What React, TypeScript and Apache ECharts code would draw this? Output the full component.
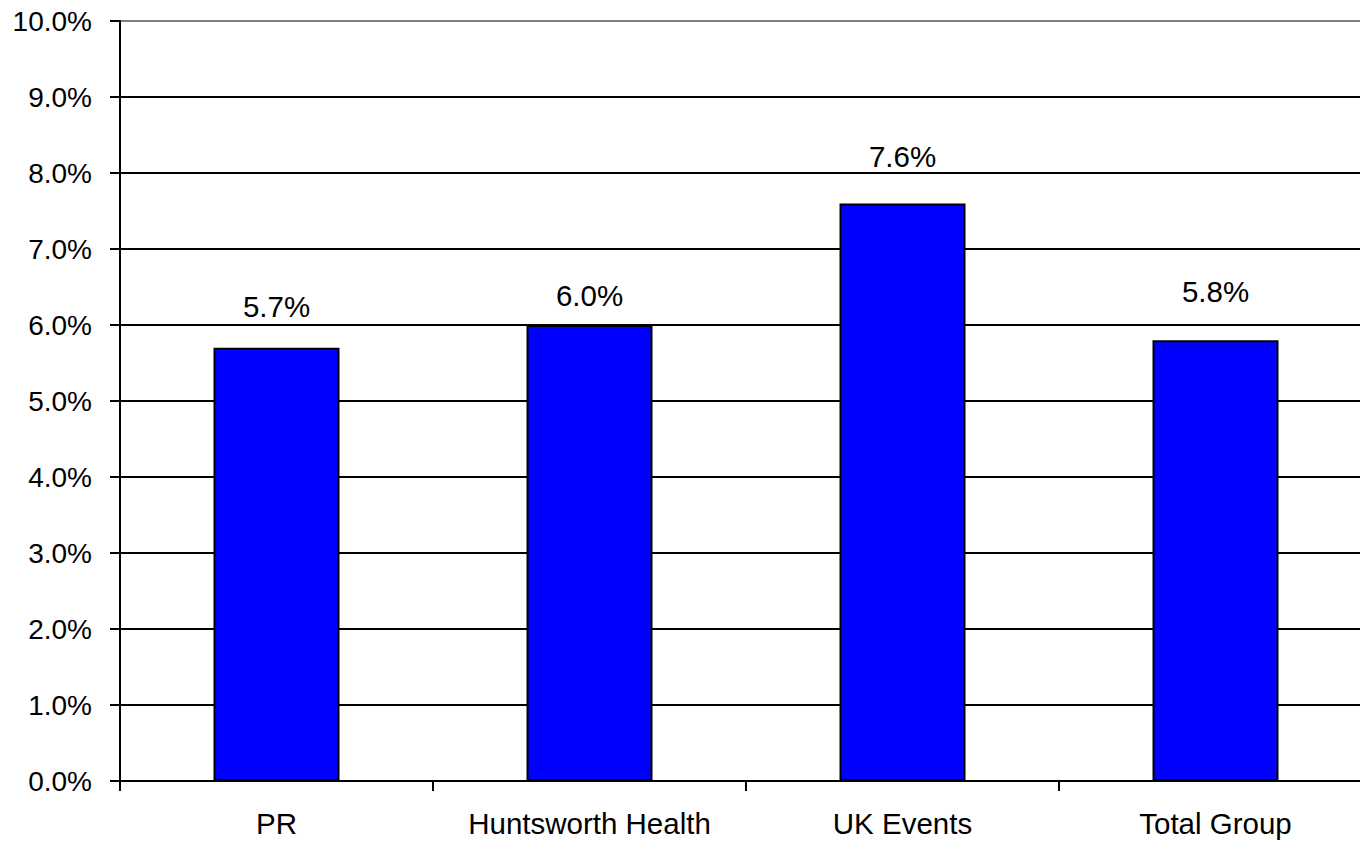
import React, { useEffect, useRef } from "react";
import * as echarts from "echarts";

const categories = ["PR", "Huntsworth Health", "UK Events", "Total Group"];
const values = [5.7, 6.0, 7.6, 5.8];
const labelDistances = [26, 15, 32, 34];
const yTicks = { min: 0, max: 10, interval: 1 };

export default function App() {
  const ref = useRef<HTMLDivElement>(null);
  useEffect(() => {
    if (!ref.current) return;
    const chart = echarts.init(ref.current, null, { renderer: "svg" });
    const font = "'Liberation Sans', Arial, sans-serif";
    const gridColors = Array.from({ length: 11 }, (_, i) => (i === 10 ? "#808080" : "#000000"));
    chart.setOption({
      animation: false,
      backgroundColor: "#ffffff",
      grid: { left: 120, right: 0, top: 21, bottom: 60, containLabel: false },
      xAxis: {
        type: "category",
        data: categories,
        axisLine: { show: true, lineStyle: { color: "#000", width: 2 } },
        axisTick: { show: true, interval: 0, length: 10, lineStyle: { color: "#000", width: 2 } },
        axisLabel: { color: "#000", interval: 0, fontSize: 29.5, fontFamily: font, margin: 27 },
        splitLine: { show: false },
      },
      yAxis: {
        type: "value",
        min: yTicks.min,
        max: yTicks.max,
        interval: yTicks.interval,
        axisLine: { show: true, lineStyle: { color: "#000", width: 2 } },
        axisTick: { show: true, length: 10, lineStyle: { color: "#000", width: 2 } },
        axisLabel: {
          color: "#000",
          fontSize: 28,
          fontFamily: font,
          margin: 28,
          formatter: (v: number) => v.toFixed(1) + "%",
        },
        splitLine: { show: true, lineStyle: { color: gridColors, width: 2 } },
      },
      series: [
        {
          type: "bar",
          barWidth: 126,
          data: values.map((v, i) => ({
            value: v,
            label: { distance: labelDistances[i] },
          })),
          itemStyle: { color: "#0000ff", borderColor: "#000", borderWidth: 2 },
          label: {
            show: true,
            position: "top",
            color: "#000",
            fontSize: 29.5,
            fontFamily: font,
            formatter: (p: any) => Number(p.value).toFixed(1) + "%",
          },
        },
      ],
    });
    return () => chart.dispose();
  }, []);
  return (
    <div
      style={{
        position: "absolute",
        left: 0,
        top: 0,
        width: 1360,
        height: 841,
        overflow: "hidden",
      }}
    >
      <div ref={ref} style={{ width: 1372, height: 841 }} />
    </div>
  );
}
